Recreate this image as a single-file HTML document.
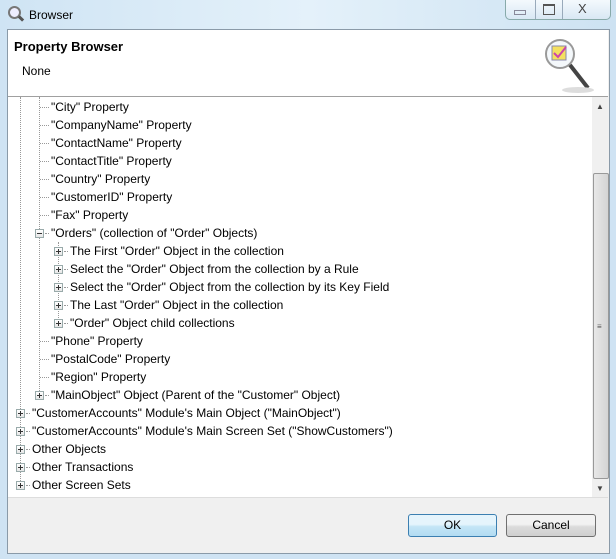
<!DOCTYPE html>
<html><head><style>
body{margin:0;width:616px;height:559px;position:relative;overflow:hidden;font-family:"Liberation Sans",sans-serif;font-size:12px;background:#cfe3f3}
.a{position:absolute}
.t{position:absolute;white-space:nowrap;line-height:14px;color:#000}
.pb{position:absolute;width:7px;height:7px;border:1px solid #9aa;background:linear-gradient(#fff,#e6e6e6);}
.pb:before{content:"";position:absolute;left:1px;top:3px;width:5px;height:1px;background:#333}
.pb.p:after{content:"";position:absolute;left:3px;top:1px;width:1px;height:5px;background:#333}
.vl{position:absolute;width:0;border-left:1px dotted #999}
.hl{position:absolute;height:0;border-top:1px dotted #999}
.btn{position:absolute;border:1px solid #707070;border-radius:3px;text-align:center;line-height:21px;font-size:12px;background:linear-gradient(#f2f2f2 45%,#dcdcdc 55%,#cfcfcf)}
</style></head><body>
<div class="a" style="left:0;top:0;width:616px;height:30px;background:linear-gradient(90deg,#cfe4f4,#e4f1fa 50%,#cde2f2)"></div>
<div class="a" style="left:8px;top:6px;width:9px;height:9px;border:2px solid #777;border-radius:50%;background:#eef"></div>
<div class="a" style="left:18px;top:17px;width:6px;height:3px;background:#555;transform:rotate(45deg)"></div>
<div class="t" style="left:29px;top:8px;font-size:12px">Browser</div>
<div class="a" style="left:505px;top:0;width:104px;height:19px;border:1px solid #8aa;border-top:none;border-radius:0 0 5px 5px;background:linear-gradient(#f4f9fd,#d9e8f4)"></div>
<div class="a" style="left:535px;top:0;width:0;height:19px;border-left:1px solid #9ab"></div>
<div class="a" style="left:562px;top:0;width:0;height:19px;border-left:1px solid #9ab"></div>
<div class="a" style="left:514px;top:10px;width:10px;height:3px;border:1px solid #889"></div>
<div class="a" style="left:543px;top:4px;width:10px;height:8px;border:1px solid #555;border-top-width:2px"></div>
<div class="t" style="left:578px;top:2px;font-size:13px;color:#444">X</div>
<div class="a" style="left:7px;top:29px;width:601px;height:523px;background:#f0f0f0;border:1px solid #8a9aa8"></div>
<div class="a" style="left:8px;top:30px;width:600px;height:66px;background:#fff;border-bottom:1px solid #a0a0a0"></div>
<div class="t" style="left:14px;top:40px;font-weight:bold;font-size:13px">Property Browser</div>
<div class="t" style="left:22px;top:64px">None</div>
<svg class="a" style="left:540px;top:36px" width="60" height="58"><circle cx="20" cy="18" r="14" fill="#f4f8fb" stroke="#999" stroke-width="2"/><rect x="12" y="10" width="14" height="14" fill="#f4e060" stroke="#88a"/><path d="M14 17 l4 4 8-10" stroke="#c4a" stroke-width="2" fill="none"/><line x1="30" y1="29" x2="48" y2="52" stroke="#444" stroke-width="4"/><ellipse cx="38" cy="54" rx="16" ry="3" fill="#ddd"/></svg>
<div class="a" style="left:8px;top:97px;width:584px;height:400px;background:#fff"></div>
<div class="a" style="left:592px;top:97px;width:16px;height:400px;background:#f0f0f0"></div>
<div class="a" style="left:593px;top:173px;width:14px;height:304px;border:1px solid #999;border-radius:2px;background:linear-gradient(90deg,#e8e8e8,#d4d4d4)"></div>
<div class="t" style="left:597px;top:320px;font-size:8px;color:#555">≡</div>
<div class="t" style="left:596px;top:100px;font-size:8px;color:#444">▲</div>
<div class="t" style="left:596px;top:482px;font-size:8px;color:#444">▼</div>
<div class="a" style="left:8px;top:497px;width:600px;height:0;border-top:1px solid #ddd"></div>
<div class="vl" style="left:20px;top:97px;height:388px"></div>
<div class="vl" style="left:39px;top:97px;height:298px"></div>
<div class="vl" style="left:58px;top:242px;height:82px"></div>
<div class="hl" style="left:40px;top:107px;width:9px"></div>
<div class="hl" style="left:40px;top:125px;width:9px"></div>
<div class="hl" style="left:40px;top:143px;width:9px"></div>
<div class="hl" style="left:40px;top:161px;width:9px"></div>
<div class="hl" style="left:40px;top:179px;width:9px"></div>
<div class="hl" style="left:40px;top:197px;width:9px"></div>
<div class="hl" style="left:40px;top:215px;width:9px"></div>
<div class="hl" style="left:40px;top:341px;width:9px"></div>
<div class="hl" style="left:40px;top:359px;width:9px"></div>
<div class="hl" style="left:40px;top:377px;width:9px"></div>
<div class="t" style="left:51px;top:100px">"City" Property</div>
<div class="t" style="left:51px;top:118px">"CompanyName" Property</div>
<div class="t" style="left:51px;top:136px">"ContactName" Property</div>
<div class="t" style="left:51px;top:154px">"ContactTitle" Property</div>
<div class="t" style="left:51px;top:172px">"Country" Property</div>
<div class="t" style="left:51px;top:190px">"CustomerID" Property</div>
<div class="t" style="left:51px;top:208px">"Fax" Property</div>
<div class="pb" style="left:35px;top:229px"></div><div class="hl" style="left:45px;top:233px;width:4px"></div>
<div class="t" style="left:51px;top:226px">"Orders" (collection of "Order" Objects)</div>
<div class="pb p" style="left:54px;top:247px"></div><div class="hl" style="left:64px;top:251px;width:4px"></div>
<div class="t" style="left:70px;top:244px">The First "Order" Object in the collection</div>
<div class="pb p" style="left:54px;top:265px"></div><div class="hl" style="left:64px;top:269px;width:4px"></div>
<div class="t" style="left:70px;top:262px">Select the "Order" Object from the collection by a Rule</div>
<div class="pb p" style="left:54px;top:283px"></div><div class="hl" style="left:64px;top:287px;width:4px"></div>
<div class="t" style="left:70px;top:280px">Select the "Order" Object from the collection by its Key Field</div>
<div class="pb p" style="left:54px;top:301px"></div><div class="hl" style="left:64px;top:305px;width:4px"></div>
<div class="t" style="left:70px;top:298px">The Last "Order" Object in the collection</div>
<div class="pb p" style="left:54px;top:319px"></div><div class="hl" style="left:64px;top:323px;width:4px"></div>
<div class="t" style="left:70px;top:316px">"Order" Object child collections</div>
<div class="t" style="left:51px;top:334px">"Phone" Property</div>
<div class="t" style="left:51px;top:352px">"PostalCode" Property</div>
<div class="t" style="left:51px;top:370px">"Region" Property</div>
<div class="pb p" style="left:35px;top:391px"></div><div class="hl" style="left:45px;top:395px;width:4px"></div>
<div class="t" style="left:51px;top:388px">"MainObject" Object (Parent of the "Customer" Object)</div>
<div class="pb p" style="left:16px;top:409px"></div><div class="hl" style="left:26px;top:413px;width:4px"></div>
<div class="t" style="left:32px;top:406px">"CustomerAccounts" Module's Main Object ("MainObject")</div>
<div class="pb p" style="left:16px;top:427px"></div><div class="hl" style="left:26px;top:431px;width:4px"></div>
<div class="t" style="left:32px;top:424px">"CustomerAccounts" Module's Main Screen Set ("ShowCustomers")</div>
<div class="pb p" style="left:16px;top:445px"></div><div class="hl" style="left:26px;top:449px;width:4px"></div>
<div class="t" style="left:32px;top:442px">Other Objects</div>
<div class="pb p" style="left:16px;top:463px"></div><div class="hl" style="left:26px;top:467px;width:4px"></div>
<div class="t" style="left:32px;top:460px">Other Transactions</div>
<div class="pb p" style="left:16px;top:481px"></div><div class="hl" style="left:26px;top:485px;width:4px"></div>
<div class="t" style="left:32px;top:478px">Other Screen Sets</div>
<div class="btn" style="left:408px;top:514px;width:87px;height:21px;border-color:#3c7fb1;background:linear-gradient(#e5f4fc 45%,#c4e5f6 55%,#b2dcf2)">OK</div>
<div class="btn" style="left:506px;top:514px;width:88px;height:21px">Cancel</div>
</body></html>
